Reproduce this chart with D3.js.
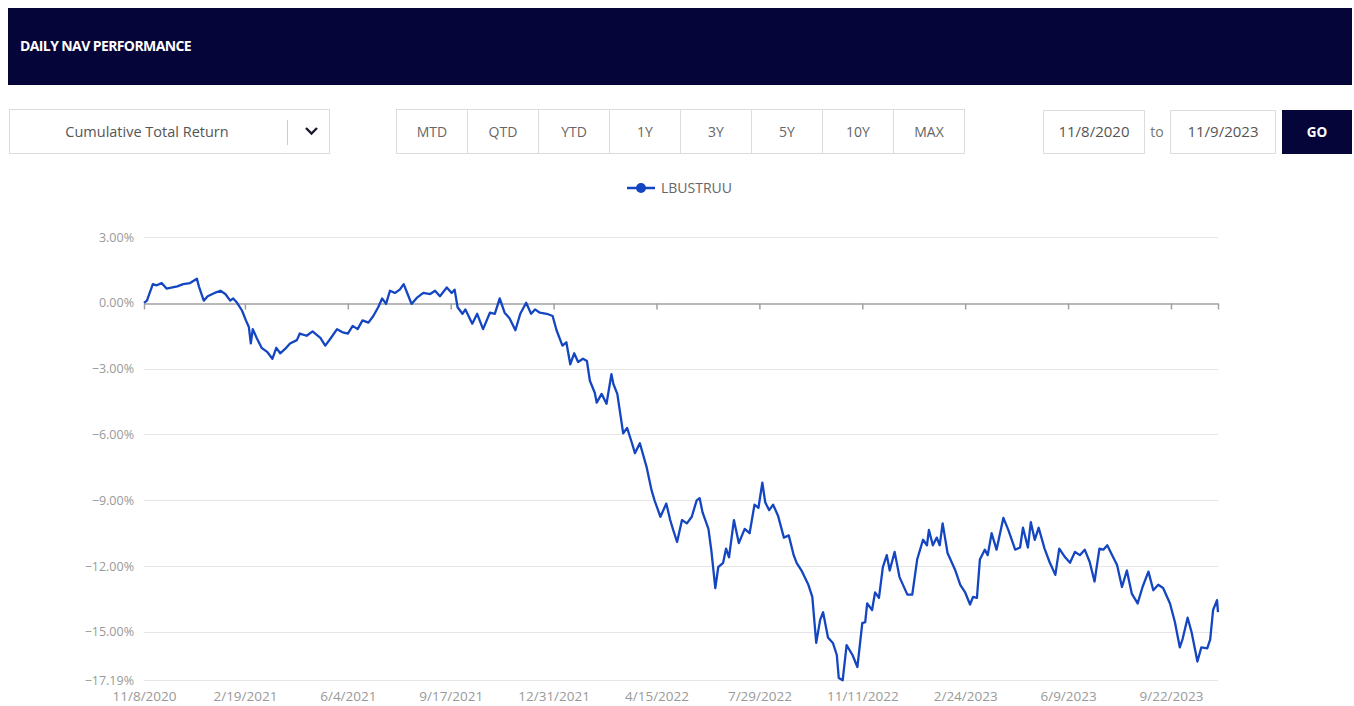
<!DOCTYPE html>
<html><head><meta charset="utf-8">
<script src="https://cdn.jsdelivr.net/npm/d3@7"></script>
<style>
body{margin:0;background:#fff;font-family:"Open Sans",sans-serif;}
svg{display:block;}
</style></head><body>
<svg id="c" width="1354" height="706"></svg>
<script>
// ---- Data ----
const seriesName = "LBUSTRUU";
const dates = [
"2020-11-08","2020-11-11","2020-11-17","2020-11-21","2020-11-26","2020-12-01","2020-12-07","2020-12-12","2020-12-18","2020-12-25",
"2021-01-01","2021-01-03","2021-01-08","2021-01-12","2021-01-19","2021-01-25","2021-01-30","2021-02-04","2021-02-07","2021-02-11",
"2021-02-16","2021-02-20","2021-02-23","2021-02-25","2021-02-27","2021-03-03","2021-03-08","2021-03-14","2021-03-19","2021-03-23",
"2021-03-27","2021-04-01","2021-04-06","2021-04-13","2021-04-16","2021-04-23","2021-04-29","2021-05-07","2021-05-12","2021-05-17",
"2021-05-24","2021-05-30","2021-06-04","2021-06-09","2021-06-14","2021-06-19","2021-06-25","2021-06-30","2021-07-05","2021-07-09",
"2021-07-13","2021-07-17","2021-07-22","2021-07-27","2021-07-31","2021-08-04","2021-08-08","2021-08-14","2021-08-20","2021-08-27",
"2021-09-01","2021-09-06","2021-09-13","2021-09-18","2021-09-21","2021-09-24","2021-09-29","2021-10-02","2021-10-09","2021-10-14",
"2021-10-20","2021-10-27","2021-11-01","2021-11-06","2021-11-11","2021-11-16","2021-11-22","2021-11-27","2021-12-03","2021-12-08",
"2021-12-12","2021-12-17","2021-12-24","2021-12-30","2022-01-03","2022-01-09","2022-01-13","2022-01-17","2022-01-21","2022-01-25",
"2022-01-30","2022-02-03","2022-02-06","2022-02-11","2022-02-13","2022-02-18","2022-02-23","2022-02-28","2022-03-02","2022-03-06",
"2022-03-12","2022-03-16","2022-03-21","2022-03-24","2022-03-29","2022-04-05","2022-04-10","2022-04-13","2022-04-19","2022-04-25",
"2022-04-29","2022-05-02","2022-05-06","2022-05-11","2022-05-16","2022-05-21","2022-05-26","2022-05-29","2022-06-01","2022-06-07",
"2022-06-10","2022-06-14","2022-06-17","2022-06-22","2022-06-25","2022-06-28","2022-07-03","2022-07-08","2022-07-14","2022-07-19",
"2022-07-24","2022-07-28","2022-08-01","2022-08-04","2022-08-08","2022-08-12","2022-08-17","2022-08-23","2022-08-28","2022-09-02",
"2022-09-05","2022-09-10","2022-09-17","2022-09-21","2022-09-25","2022-09-29","2022-10-02","2022-10-07","2022-10-12","2022-10-16",
"2022-10-18","2022-10-22","2022-10-26","2022-11-01","2022-11-06","2022-11-11","2022-11-14","2022-11-16","2022-11-21","2022-11-24",
"2022-11-28","2022-12-02","2022-12-06","2022-12-09","2022-12-14","2022-12-19","2022-12-27","2023-01-01","2023-01-06","2023-01-12",
"2023-01-16","2023-01-18","2023-01-22","2023-01-26","2023-01-29","2023-02-01","2023-02-06","2023-02-14","2023-02-19","2023-02-24",
"2023-03-01","2023-03-04","2023-03-08","2023-03-11","2023-03-16","2023-03-19","2023-03-23","2023-03-28","2023-04-04","2023-04-09",
"2023-04-16","2023-04-21","2023-04-24","2023-04-29","2023-05-02","2023-05-06","2023-05-10","2023-05-16","2023-05-21","2023-05-27",
"2023-05-31","2023-06-06","2023-06-11","2023-06-16","2023-06-21","2023-06-26","2023-07-01","2023-07-06","2023-07-11","2023-07-15",
"2023-07-19","2023-07-24","2023-07-29","2023-08-03","2023-08-08","2023-08-13","2023-08-19","2023-08-24","2023-08-30","2023-09-04",
"2023-09-09","2023-09-14","2023-09-21","2023-09-26","2023-10-01","2023-10-04","2023-10-09","2023-10-13","2023-10-19","2023-10-23",
"2023-10-29","2023-11-01","2023-11-04","2023-11-08","2023-11-09"
];
const values = [
0.0,0.1,0.85,0.8,0.9,0.65,0.7,0.75,0.85,0.9,
1.1,0.75,0.1,0.3,0.45,0.55,0.4,0.1,0.2,0.0,
-0.35,-0.8,-1.1,-1.85,-1.2,-1.6,-2.05,-2.25,-2.55,-2.05,
-2.3,-2.1,-1.85,-1.7,-1.4,-1.5,-1.3,-1.6,-1.95,-1.65,
-1.2,-1.35,-1.4,-1.05,-1.2,-0.8,-0.9,-0.6,-0.2,0.2,
-0.05,0.55,0.45,0.6,0.85,0.4,-0.05,0.25,0.45,0.4,
0.55,0.3,0.7,0.45,0.6,-0.2,-0.5,-0.3,-0.95,-0.5,
-1.2,-0.45,-0.5,0.2,-0.45,-0.7,-1.25,-0.5,0.0,-0.5,
-0.3,-0.45,-0.5,-0.6,-1.25,-1.95,-1.8,-2.8,-2.3,-2.7,
-2.55,-2.65,-3.55,-4.1,-4.55,-4.15,-4.6,-3.25,-3.7,-4.15,
-5.95,-5.7,-6.4,-6.85,-6.4,-7.5,-8.55,-9.0,-9.75,-9.15,
-9.9,-10.35,-10.9,-9.9,-10.05,-9.75,-9.0,-8.9,-9.55,-10.3,
-11.3,-13.0,-12.05,-11.85,-11.2,-11.6,-9.9,-10.95,-10.3,-10.5,
-9.2,-9.35,-8.2,-9.1,-9.45,-9.2,-9.7,-10.7,-10.6,-11.5,
-11.85,-12.2,-12.85,-13.4,-15.5,-14.45,-14.1,-15.25,-15.5,-16.05,
-17.1,-17.2,-15.6,-16.05,-16.6,-14.6,-14.55,-13.7,-14.0,-13.2,
-13.45,-12.05,-11.5,-12.2,-11.35,-12.5,-13.3,-13.3,-11.7,-10.8,
-11.05,-10.35,-11.05,-10.7,-11.05,-10.05,-11.4,-12.2,-12.85,-13.2,
-13.75,-13.4,-13.45,-11.7,-11.25,-11.5,-10.5,-11.25,-9.8,-10.35,
-11.25,-11.15,-10.25,-11.15,-10.0,-10.8,-10.25,-11.2,-11.8,-12.4,
-11.2,-11.6,-11.85,-11.35,-11.5,-11.25,-11.8,-12.7,-11.2,-11.25,
-11.05,-11.5,-11.95,-12.95,-12.2,-13.25,-13.7,-12.95,-12.25,-13.1,
-12.85,-13.0,-13.7,-14.55,-15.7,-15.3,-14.35,-15.0,-16.35,-15.7,
-15.75,-15.35,-14.0,-13.55,-14.1
];
const yTickValues = [3, 0, -3, -6, -9, -12, -15, -17.19];
const xTickLabels = ["11/8/2020","2/19/2021","6/4/2021","9/17/2021","12/31/2021","4/15/2022","7/29/2022","11/11/2022","2/24/2023","6/9/2023","9/22/2023"];
const rangeButtons = ["MTD","QTD","YTD","1Y","3Y","5Y","10Y","MAX"];
const titleText = "DAILY NAV PERFORMANCE";
const dropdownText = "Cumulative Total Return";
const startDateText = "11/8/2020";
const endDateText = "11/9/2023";

// ---- Drawing ----
const navy = "#06053a";
const blue = "#1446c2";
const svg = d3.select("#c");
const parse = d3.timeParse("%Y-%m-%d");
const parseLabel = d3.timeParse("%m/%d/%Y");
const data = dates.map((d,i)=>({date:parse(d), value:values[i]}));

// header
svg.append("rect").attr("x",8).attr("y",8).attr("width",1344).attr("height",77).attr("fill",navy);
svg.append("text").attr("x",20).attr("y",51).attr("fill","#fff")
  .attr("font-family","'Open Sans',sans-serif").attr("font-weight",700).attr("font-size",14)
  .attr("letter-spacing","-0.6").text(titleText);

// dropdown
svg.append("rect").attr("x",9.5).attr("y",109.5).attr("width",320).attr("height",44)
  .attr("fill","#fff").attr("stroke","#dcdcdc");
svg.append("text").attr("x",147).attr("y",137).attr("text-anchor","middle")
  .attr("font-size",14.5).attr("fill","#555").text(dropdownText);
svg.append("line").attr("x1",287.5).attr("x2",287.5).attr("y1",120).attr("y2",145).attr("stroke","#ccc");
svg.append("path").attr("d","M306,128 L311.5,133.5 L317,128").attr("fill","none")
  .attr("stroke","#1a1a2e").attr("stroke-width",2.4);

// range buttons
const bx0 = 396, bw = 71;
const btn = svg.append("g");
rangeButtons.forEach((t,i)=>{
  btn.append("rect").attr("x",bx0+i*bw+0.5).attr("y",109.5).attr("width",bw).attr("height",44)
    .attr("fill","#fff").attr("stroke","#dcdcdc");
  btn.append("text").attr("x",bx0+i*bw+bw/2+0.5).attr("y",137).attr("text-anchor","middle")
    .attr("font-size",14).attr("fill","#666").text(t);
});

// date inputs
svg.append("rect").attr("x",1043.5).attr("y",110.5).attr("width",101).attr("height",43).attr("fill","#fff").attr("stroke","#dcdcdc");
svg.append("text").attr("x",1094).attr("y",137).attr("text-anchor","middle").attr("font-size",15).attr("fill","#555").text(startDateText);
svg.append("text").attr("x",1157).attr("y",137).attr("text-anchor","middle").attr("font-size",14).attr("fill","#777").text("to");
svg.append("rect").attr("x",1170.5).attr("y",110.5).attr("width",105).attr("height",43).attr("fill","#fff").attr("stroke","#dcdcdc");
svg.append("text").attr("x",1223).attr("y",137).attr("text-anchor","middle").attr("font-size",15).attr("fill","#555").text(endDateText);
svg.append("rect").attr("x",1282).attr("y",110).attr("width",70).attr("height",44).attr("fill",navy);
svg.append("text").attr("x",1317).attr("y",137).attr("text-anchor","middle").attr("font-size",13.5)
  .attr("font-weight",700).attr("fill","#fff").text("GO");

// legend
svg.append("line").attr("x1",627).attr("x2",655).attr("y1",188).attr("y2",188).attr("stroke",blue).attr("stroke-width",2.5);
svg.append("circle").attr("cx",641).attr("cy",188).attr("r",5).attr("fill",blue);
svg.append("text").attr("x",661).attr("y",193).attr("font-size",14).attr("fill","#666").text(seriesName);

// scales
const x = d3.scaleTime().domain([parse("2020-11-08"), parse("2023-11-09")]).range([144,1218]);
const y = d3.scaleLinear().domain([-17.19, 3]).range([680, 237]);

// gridlines
const g = svg.append("g");
g.selectAll("line.grid").data(yTickValues.filter(v=>v!==0)).join("line")
  .attr("x1",144).attr("x2",1218).attr("y1",d=>Math.round(y(d))+0.5).attr("y2",d=>Math.round(y(d))+0.5)
  .attr("stroke","#e6e6e6");

// y axis labels
const yAxis = d3.axisLeft(y).tickValues(yTickValues).tickSize(0).tickPadding(0)
  .tickFormat(d=>d3.format(".2f")(d)+"%");
const ya = svg.append("g").attr("transform","translate(134,0)").call(yAxis);
ya.select(".domain").remove();
ya.selectAll("text").attr("font-family","'Open Sans',sans-serif").attr("font-size",12.5).attr("fill","#999");

// zero axis line with ticks
const tickDates = xTickLabels.map(s=>parseLabel(s));
const zAxis = d3.axisBottom(x).tickValues(tickDates.concat([parse("2023-11-09")])).tickSize(6).tickSizeOuter(0).tickFormat("");
const za = svg.append("g").attr("transform",`translate(0,${Math.round(y(0))+0.5})`).call(zAxis);
za.select(".domain").attr("stroke","#a0a0a0").attr("stroke-width",1.5);
za.selectAll(".tick line").attr("stroke","#a0a0a0").attr("stroke-width",1.5);

// x labels
const xAxis = d3.axisBottom(x).tickValues(tickDates).tickSize(0).tickPadding(0)
  .tickFormat(d=>d3.timeFormat("%-m/%-d/%Y")(d));
const xa = svg.append("g").attr("transform","translate(0,691)").call(xAxis);
xa.select(".domain").remove();
xa.selectAll("text").attr("font-family","'Open Sans',sans-serif").attr("font-size",13.5).attr("fill","#999");

// line
const line = d3.line().x(d=>x(d.date)).y(d=>y(d.value)).curve(d3.curveLinear);
svg.append("path").datum(data).attr("d",line).attr("fill","none")
  .attr("stroke",blue).attr("stroke-width",2.3).attr("stroke-linejoin","round");
</script>
</body></html>
